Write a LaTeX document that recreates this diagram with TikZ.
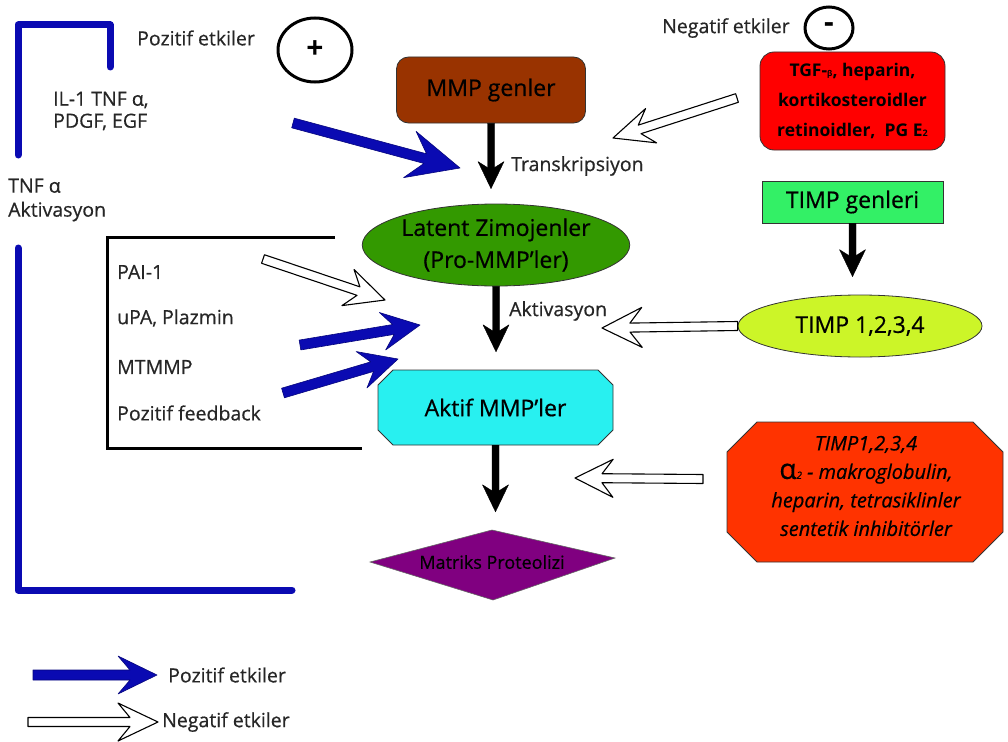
\documentclass[tikz,border=0pt]{standalone}
\usepackage{fontspec}
\setmainfont{Open Sans}[UprightFeatures={FakeBold=0.6},ItalicFeatures={FakeBold=0.6}]
\usetikzlibrary{calc,shapes.geometric}
\definecolor{bluec}{RGB}{10,10,178}
\definecolor{brownc}{RGB}{153,51,0}
\definecolor{latentc}{RGB}{51,153,0}
\definecolor{aktifc}{RGB}{40,240,240}
\definecolor{matriksc}{RGB}{128,0,128}
\definecolor{timpgc}{RGB}{51,240,102}
\definecolor{timpc}{RGB}{204,245,40}
\definecolor{redc}{RGB}{255,0,0}
\definecolor{inhibc}{RGB}{255,51,0}
% #1 style, #2 from, #3 to, #4 shaft half width, #5 head length, #6 head half width, #7 notch
\newcommand{\fatarrow}[7]{%
  \path #2 coordinate (faA);
  \path #3 coordinate (faB);
  \path ($(faB)!#5pt!(faA)$) coordinate (faH);
  \path ($(faB)!#7pt!(faA)$) coordinate (faJ);
  \draw[#1] ($(faA)!#4pt!90:(faB)$) -- ($(faJ)!#4pt!90:(faB)$) -- ($(faH)!#6pt!90:(faB)$) -- (faB)
     -- ($(faH)!#6pt!-90:(faB)$) -- ($(faJ)!#4pt!-90:(faB)$) -- ($(faA)!#4pt!-90:(faB)$) -- cycle;
}
\begin{document}
\begin{tikzpicture}[x=1pt,y=-1pt,
  boxfont/.style={font=\fontsize{23}{30}\selectfont, text=black},
  boxnode/.style={boxfont, draw=black!80, line width=0.8pt},
  lbl/.style={font=\fontsize{19.5}{23}\selectfont, text=black!85, anchor=west, inner sep=0pt},
  posarrow/.style={fill=bluec, draw=bluec!70!black, line width=0.6pt, line join=round},
  negarrow/.style={fill=white, draw=black, line width=1.1pt, line join=round},
  flowarrow/.style={fill=black, draw=black, line width=0.4pt, line join=round},
  bluebracket/.style={draw=bluec, line width=7pt, line join=round, line cap=round},
  blackbracket/.style={draw=black, line width=3pt, line join=miter},
  signcircle/.style={ellipse, draw=black, line width=3pt, inner sep=0pt, font=\bfseries}
]
\useasboundingbox (0,0) rectangle (1008,741);

% brackets
\draw[bluebracket] (18,155) -- (18,25) -- (110,25) -- (110,67);
\draw[bluebracket] (18,248) -- (18,590) -- (292,590);
\draw[blackbracket] (335,237) -- (107,237) -- (107,448) -- (362,448);

% left labels
\node[lbl] (pozt) at (137,38) {Pozitif etkiler};
\node[signcircle, minimum width=74pt, minimum height=64pt, font=\fontsize{30}{30}\selectfont\bfseries] (plus) at (315,50) {+};
\node[lbl, align=left, font=\fontsize{19.5}{22}\selectfont] (il1) at (53,111) {IL-1 TNF α,\\PDGF, EGF};
\node[lbl, align=left, font=\fontsize{19.5}{24}\selectfont] (tnf) at (8,200) {TNF α\\Aktivasyon};
\node[lbl] (pai) at (117,272) {PAI-1};
\node[lbl] (upa) at (117,318) {uPA, Plazmin};
\node[lbl] (mtmmp) at (117,367) {MTMMP};
\node[lbl] (pfb) at (117,413) {Pozitif feedback};

% negative header
\node[lbl] (negt) at (662,28) {Negatif etkiler};
\node[signcircle, minimum width=48pt, minimum height=42pt, font=\fontsize{30}{30}\selectfont\bfseries] (minus) at (829,28) {-};

% main flow nodes
\node[boxnode, rounded corners=12pt, fill=brownc, minimum width=189pt, minimum height=66pt] (mmp) at (491,90) {MMP genler};
\node[boxnode, ellipse, fill=latentc, minimum width=251pt, minimum height=82pt, inner sep=0pt, align=center, font=\fontsize{23}{32}\selectfont] (latent) at (496,245) {Latent Zimojenler\\(Pro-MMP’ler)};
\fill[aktifc, draw=black!80, line width=0.8pt] (393,370) -- (598,370) -- (613,385) -- (613,430) -- (598,445) -- (393,445) -- (378,430) -- (378,385) -- cycle;
\node[boxfont, minimum width=235pt, minimum height=75pt] (aktif) at (495.5,407.5) {Aktif MMP’ler};
\fill[matriksc, draw=black!60, line width=0.6pt] (492,530) -- (615,558) -- (493,600) -- (370,562) -- cycle;
\node[font=\fontsize{18}{20}\selectfont, text=black, minimum width=245pt, minimum height=70pt] (matriks) at (492,562) {Matriks Proteolizi};

% right nodes
\node[boxnode, rounded corners=14pt, fill=redc, minimum width=185pt, minimum height=98pt, align=center, font=\fontsize{17.5}{30}\selectfont\bfseries] (tgf) at (852.5,101) {TGF-{\fontsize{8}{8}\selectfont β}, heparin,\\kortikosteroidler\\retinoidler,\ \ PG E{\fontsize{9}{9}\selectfont 2}};
\node[boxnode, fill=timpgc, minimum width=181pt, minimum height=42pt] (timpg) at (852.5,202) {TIMP genleri};
\node[boxnode, ellipse, fill=timpc, minimum width=244pt, minimum height=62pt, inner sep=0pt] (timp) at (860,326) {TIMP 1,2,3,4};
\fill[inhibc, draw=black!80, line width=0.8pt] (757,422) -- (973,422) -- (1003,452) -- (1003,532) -- (973,562) -- (757,562) -- (727,532) -- (727,452) -- cycle;
\node[align=center, text=black, font=\fontsize{20}{28.5}\selectfont\itshape, minimum width=276pt, minimum height=140pt] (inhib) at (866,486) {TIMP1,2,3,4\\{\upshape\fontsize{28}{28}\selectfont α}{\fontsize{10}{10}\selectfont 2} - makroglobulin,\\heparin, tetrasiklinler\\sentetik inhibitörler};

% flow arrows
\fatarrow{flowarrow}{(mmp.south)}{($(mmp.south |- latent.north)+(0,-15)$)}{3.5}{27}{13}{21}
\fatarrow{flowarrow}{(latent.south)}{($(latent.south |- aktif.north)+(0,-18)$)}{3.5}{27}{13}{21}
\fatarrow{flowarrow}{(aktif.south)}{($(aktif.south |- matriks.north)+(0,-15)$)}{3.5}{27}{13}{21}
\fatarrow{flowarrow}{(timpg.south)}{($(timpg.south |- timp.north)+(0,-18)$)}{3.5}{27}{13}{21}
\node[lbl, font=\fontsize{19.5}{22}\selectfont] (trans) at (511,166) {Transkripsiyon};
\node[lbl, font=\fontsize{19.5}{22}\selectfont] (aktv) at (509,311) {Aktivasyon};

% positive / negative effect arrows
\coordinate (p1a) at (293,123); \coordinate (p1b) at (460,168);
\coordinate (p2a) at (300,345); \coordinate (p2b) at (420,325);
\coordinate (p3a) at (283,393); \coordinate (p3b) at (398,359);
\coordinate (n1a) at (737,98);  \coordinate (n1b) at (613,138);
\coordinate (n2a) at (263,259); \coordinate (n2b) at (385,300);
\coordinate (n3b) at (602,328);
\coordinate (n4a) at (703,479); \coordinate (n4b) at (575,478);
\fatarrow{posarrow}{(p1a)}{(p1b)}{5}{52}{24}{36}
\fatarrow{posarrow}{(p2a)}{(p2b)}{5}{38}{19}{27}
\fatarrow{posarrow}{(p3a)}{(p3b)}{5}{38}{19}{27}
\fatarrow{negarrow}{(n1a)}{(n1b)}{4.5}{40}{18}{28}
\fatarrow{negarrow}{(n2a)}{(n2b)}{4.5}{39}{19}{28}
\fatarrow{negarrow}{(timp.west)}{(n3b)}{4.5}{40}{20}{28}
\fatarrow{negarrow}{(n4a)}{(n4b)}{4.5}{38}{19}{27}

% legend
\coordinate (lpa) at (33,675); \coordinate (lpb) at (157,675);
\coordinate (lna) at (28,722); \coordinate (lnb) at (158,722);
\fatarrow{posarrow}{(lpa)}{(lpb)}{5}{39}{19}{27}
\fatarrow{negarrow}{(lna)}{(lnb)}{4.5}{40}{19}{28}
\node[lbl] (lgpos) at (168,675) {Pozitif etkiler};
\node[lbl] (lgneg) at (162,722) {Negatif etkiler};
\end{tikzpicture}
\end{document}
